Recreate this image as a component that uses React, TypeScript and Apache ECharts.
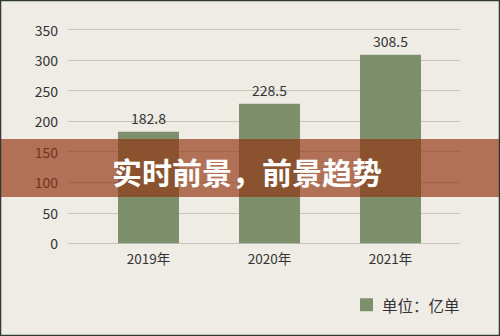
import React, { useEffect, useRef } from "react";
import * as echarts from "echarts";

const categories = ["2019年", "2020年", "2021年"];
const values = [182.8, 228.5, 308.5];
const seriesName = "单位：亿单";
const titleText = "实时前景，前景趋势";

const FONT = '"Noto Sans CJK SC", "Noto Sans", sans-serif';

export default function App() {
  const ref = useRef<HTMLDivElement>(null);
  useEffect(() => {
    if (!ref.current) return;
    const chart = echarts.init(ref.current, null, { renderer: "svg" });
    chart.setOption({
      animation: false,
      backgroundColor: "#efece6",
      textStyle: { fontFamily: FONT },
      grid: [
        { left: 68, right: 40, top: 29.5, bottom: 92.7 },
        { left: 88, right: 49, top: 29.5, bottom: 92.7 },
      ],
      legend: {
        data: [seriesName],
        left: 360,
        top: 297,
        padding: 0,
        icon: "rect",
        itemWidth: 13,
        itemHeight: 13,
        textStyle: { fontSize: 15.5, color: "#333", fontFamily: FONT, padding: [0, 0, 0, 4] },
      },
      xAxis: [
        { type: "category", gridIndex: 0, data: categories, show: false },
        {
          type: "category",
          gridIndex: 1,
          data: categories,
          axisLine: { show: false },
          axisTick: { show: false },
          axisLabel: { color: "#333", fontSize: 13.5, margin: 8, fontFamily: FONT },
        },
      ],
      yAxis: [
        {
          type: "value",
          gridIndex: 0,
          min: 0,
          max: 350,
          interval: 50,
          axisLine: { show: false },
          axisTick: { show: false },
          axisLabel: { color: "#333", fontSize: 14, margin: 10, fontFamily: FONT },
          splitLine: { lineStyle: { color: "#c9c5bd", width: 1 } },
        },
        { type: "value", gridIndex: 1, min: 0, max: 350, interval: 50, show: false },
      ],
      series: [
        {
          name: seriesName,
          type: "bar",
          xAxisIndex: 1,
          yAxisIndex: 1,
          data: values,
          barWidth: 61,
          itemStyle: { color: "#7e8f6c" },
          label: {
            show: true,
            position: "top",
            distance: 7,
            color: "#333",
            fontSize: 14,
            fontFamily: FONT,
          },
        },
      ],
      graphic: [
        {
          type: "rect",
          z: 100,
          shape: { x: 0, y: 139, width: 500, height: 58 },
          style: { fill: "rgba(144,52,17,0.67)" },
        },
        {
          type: "text",
          z: 101,
          x: 247,
          y: 171,
          style: {
            text: titleText,
            fill: "#ffffff",
            font: `bold 30px ${FONT}`,
            textAlign: "center",
            textVerticalAlign: "middle",
          },
        },
        {
          type: "rect",
          z: 102,
          shape: { x: 0.5, y: 0.5, width: 499, height: 335 },
          style: { fill: "none", stroke: "#2f3a30", lineWidth: 1.5 },
        },
      ],
    });
    return () => chart.dispose();
  }, []);
  return (
    <div
      ref={ref}
      style={{ position: "fixed", left: 0, top: 0, width: 500, height: 336 }}
    />
  );
}
